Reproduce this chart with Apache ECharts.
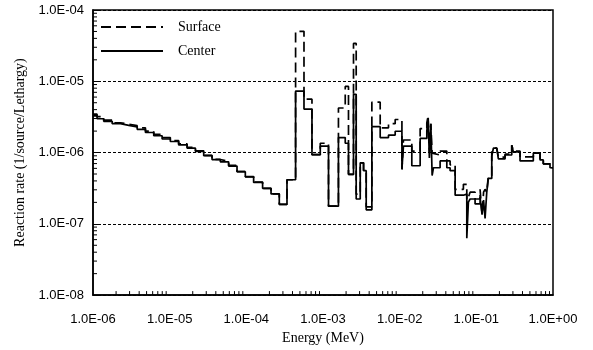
<!DOCTYPE html>
<html>
<head>
<meta charset="utf-8">
<script src="https://cdn.jsdelivr.net/npm/echarts@6/dist/echarts.min.js"></script>
<style>
html,body{margin:0;padding:0;background:#fff;}
#chart{width:593px;height:350px;}
</style>
</head>
<body>
<div id="chart"></div>
<script>
// Bin lower edges (MeV); the last bin ends at binEnd
const energyEdges = [
  1.00e-6, 1.13e-6, 1.38e-6, 1.78e-6, 2.28e-6, 2.93e-6, 3.77e-6, 4.83e-6, 6.20e-6, 7.97e-6,
  1.02e-5, 1.31e-5, 1.69e-5, 2.17e-5, 2.78e-5, 3.57e-5, 4.58e-5, 5.88e-5, 7.56e-5, 9.70e-5,
  1.245e-4, 1.63e-4, 2.10e-4, 2.69e-4, 3.39e-4, 4.39e-4, 5.65e-4, 7.18e-4, 9.21e-4, 1.18e-3,
  1.59e-3, 1.95e-3, 2.15e-3, 2.50e-3, 2.71e-3, 3.06e-3, 3.38e-3, 3.66e-3, 4.34e-3, 5.57e-3,
  7.15e-3, 8.74e-3, 1.07e-2, 1.12e-2, 1.44e-2, 1.85e-2, 2.26e-2, 2.35e-2, 2.44e-2, 2.55e-2,
  2.65e-2, 2.76e-2, 3.37e-2, 4.12e-2, 4.55e-2, 5.29e-2, 6.78e-2, 7.51e-2, 7.88e-2, 8.29e-2,
  9.63e-2, 0.1119, 0.1188, 0.1243, 0.130, 0.1368, 0.1435, 0.159, 0.1668, 0.1847,
  0.1938, 0.237, 0.2897, 0.304, 0.3715, 0.5537, 0.677, 0.747, 0.914
];
const binEnd = 1.0;

const centerRate = [
  3.27e-6, 2.98e-6, 2.74e-6, 2.54e-6, 2.41e-6, 2.29e-6, 2.12e-6, 1.91e-6, 1.72e-6, 1.55e-6,
  1.43e-6, 1.28e-6, 1.15e-6, 1.04e-6, 9.03e-7, 7.96e-7, 7.40e-7, 6.46e-7, 5.39e-7, 4.56e-7,
  3.81e-7, 3.15e-7, 2.63e-7, 1.88e-7, 4.15e-7, 7.29e-6, 4.08e-6, 9.33e-7, 1.23e-6, 1.77e-7,
  1.62e-6, 1.35e-6, 4.95e-7, 6.56e-6, 2.23e-7, 7.18e-7, 5.57e-7, 1.57e-7, 2.31e-6, 1.62e-6,
  1.76e-6, 1.99e-6, 5.81e-7, 1.23e-6, 6.53e-7, 1.58e-6, 2.00e-6, 3.00e-6, 8.41e-7, 2.54e-6,
  4.75e-7, 6.12e-7, 7.64e-7, 6.12e-7, 5.57e-7, 2.52e-7, 2.61e-7, 6.28e-8, 2.02e-7, 2.23e-7,
  1.90e-7, 2.37e-7, 1.34e-7, 2.16e-7, 1.19e-7, 2.78e-7, 4.33e-7, 8.95e-7, 1.15e-6, 1.08e-6,
  8.14e-7, 9.24e-7, 1.27e-6, 1.02e-6, 7.64e-7, 9.84e-7, 7.89e-7, 6.95e-7, 6.12e-7
];

const surfaceRate = [
  3.45e-6, 3.20e-6, 2.85e-6, 2.62e-6, 2.50e-6, 2.38e-6, 2.22e-6, 2.00e-6, 1.80e-6, 1.62e-6,
  1.47e-6, 1.32e-6, 1.18e-6, 1.06e-6, 9.10e-7, 8.00e-7, 7.50e-7, 6.60e-7, 5.40e-7, 4.60e-7,
  3.85e-7, 3.15e-7, 2.63e-7, 1.88e-7, 4.15e-7, 5.02e-5, 5.61e-6, 9.33e-7, 1.35e-6, 1.77e-7,
  4.22e-6, 8.46e-6, 4.95e-7, 3.40e-5, 2.61e-7, 7.18e-7, 5.57e-7, 1.73e-7, 5.09e-6, 2.22e-6,
  2.54e-6, 2.91e-6, 5.81e-7, 1.50e-6, 1.05e-6, 2.17e-6, 2.60e-6, 3.30e-6, 1.00e-6, 2.54e-6,
  9.84e-7, 9.24e-7, 1.05e-6, 7.64e-7, 6.73e-7, 3.05e-7, 3.58e-7, 2.16e-7, 2.37e-7, 2.78e-7,
  2.23e-7, 3.05e-7, 1.34e-7, 2.78e-7, 3.05e-7, 2.78e-7, 4.75e-7, 1.05e-6, 1.15e-6, 1.08e-6,
  8.60e-7, 9.50e-7, 1.27e-6, 1.05e-6, 8.67e-7, 9.84e-7, 7.89e-7, 6.95e-7, 6.12e-7
];

const xDecades = [1e-6, 1e-5, 1e-4, 1e-3, 1e-2, 1e-1, 1e0];
const yDecades = [1e-8, 1e-7, 1e-6, 1e-5, 1e-4];
const minorMultiples = [2, 3, 4, 5, 6, 7, 8, 9];

function stepData(vals) {
  const d = energyEdges.map((e, i) => [e, vals[i]]);
  d.push([binEnd, vals[vals.length - 1]]);
  return d;
}
function sciLabel(v) {
  const e = Math.round(Math.log10(v));
  return '1.0E' + (e < 0 ? '-' : '+') + String(Math.abs(e)).padStart(2, '0');
}
const xMinor = [], yMinor = [];
xDecades.slice(0, -1).forEach(d => minorMultiples.forEach(m => xMinor.push([d * m, 1e-6])));
yDecades.slice(0, -1).forEach(d => minorMultiples.forEach(m => yMinor.push([1e-3, d * m])));

const chart = echarts.init(document.getElementById('chart'), null, {renderer: 'canvas'});
const axisFont = {fontFamily: 'Liberation Sans, Arial, sans-serif', fontSize: 13, color: '#000'};
const serifFont = {fontFamily: 'Liberation Serif, Times New Roman, serif', fontSize: 14, color: '#000'};

chart.setOption({
  animation: false,
  backgroundColor: '#fff',
  grid: {left: 93, right: 40, top: 10, bottom: 50, show: true, borderColor: '#000', borderWidth: 1.5, backgroundColor: 'transparent'},
  legend: {
    show: true,
    data: ['Surface', 'Center'],
    orient: 'vertical',
    left: 100, top: 20, padding: 0,
    itemWidth: 62, itemHeight: 14, itemGap: 10,
    itemStyle: {opacity: 0, color: 'transparent', borderWidth: 0},
    textStyle: Object.assign({}, serifFont, {padding: [0, 0, 0, 10]})
  },
  xAxis: {
    type: 'log', logBase: 10, min: 1e-6, max: 1, splitNumber: 6,
    name: 'Energy (MeV)', nameLocation: 'middle', nameGap: 29,
    nameTextStyle: serifFont,
    axisLine: {show: true, lineStyle: {color: '#000', width: 1.5}},
    axisTick: {show: false},
    axisLabel: Object.assign({}, axisFont, {margin: 18, formatter: sciLabel}),
    splitLine: {show: false}
  },
  yAxis: {
    type: 'log', logBase: 10, min: 1e-8, max: 1e-4, splitNumber: 4,
    name: 'Reaction rate (1/source/Lethargy)', nameLocation: 'middle', nameGap: 66,
    nameTextStyle: serifFont,
    axisLine: {show: true, lineStyle: {color: '#000', width: 1.5}},
    axisTick: {show: true, inside: true, length: 5, lineStyle: {color: '#000'}},
    axisLabel: Object.assign({}, axisFont, {margin: 9, formatter: sciLabel}),
    splitLine: {show: true, lineStyle: {color: '#000', type: [3, 2], width: 1}}
  },
  series: [
    {
      name: 'Surface', type: 'line', step: 'end', showSymbol: false, symbol: 'none',
      data: stepData(surfaceRate),
      lineStyle: {color: '#000', width: 1.7, type: [10, 5]},
      itemStyle: {color: '#000'}, z: 3
    },
    {
      name: 'Center', type: 'line', step: 'end', showSymbol: false, symbol: 'none',
      data: stepData(centerRate),
      lineStyle: {color: '#000', width: 1.7},
      itemStyle: {color: '#000'}, z: 4
    },
    {
      name: 'xminor', type: 'custom', silent: true, clip: false, z: 5,
      data: xMinor,
      renderItem: function (params, api) {
        const p = api.coord([api.value(0), api.value(1)]);
        const cs = params.coordSys;
        const yb = cs.y + cs.height;
        return {type: 'line', shape: {x1: p[0], y1: yb, x2: p[0], y2: yb - 4}, style: {stroke: '#000', lineWidth: 1}};
      }
    },
    {
      name: 'yminor', type: 'custom', silent: true, clip: false, z: 5,
      data: yMinor,
      renderItem: function (params, api) {
        const p = api.coord([api.value(0), api.value(1)]);
        const x0 = params.coordSys.x;
        return {type: 'line', shape: {x1: x0, y1: p[1], x2: x0 + 4, y2: p[1]}, style: {stroke: '#000', lineWidth: 1}};
      }
    }
  ]
});
</script>
</body>
</html>
